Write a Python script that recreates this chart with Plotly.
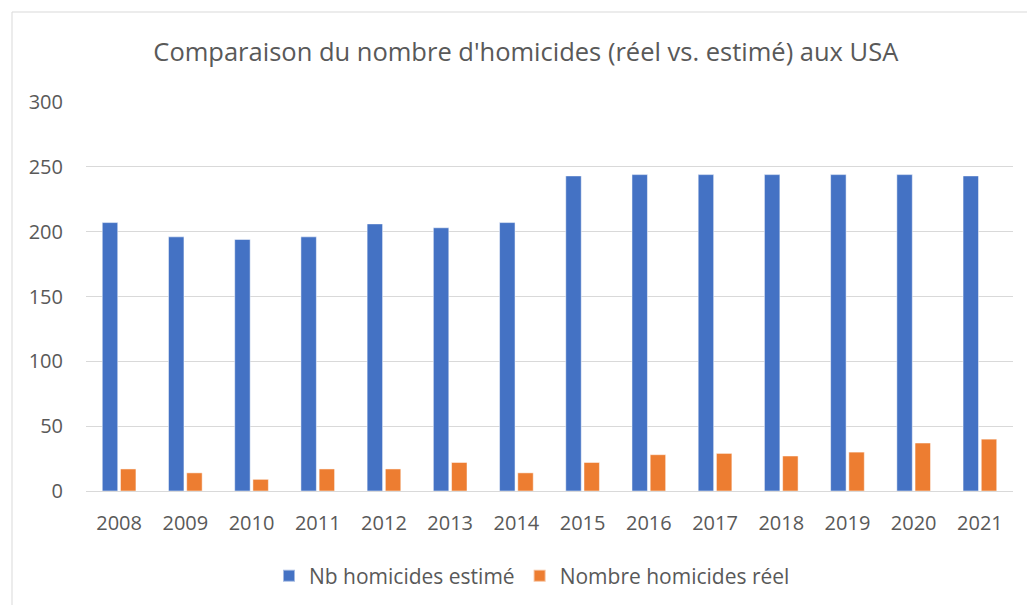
import plotly.graph_objects as go

# data
years = ["2008", "2009", "2010", "2011", "2012", "2013", "2014",
         "2015", "2016", "2017", "2018", "2019", "2020", "2021"]
estime = [207, 196, 194, 196, 206, 203, 207, 243, 244, 244, 244, 244, 244, 243]
reel = [17, 14, 9, 17, 17, 22, 14, 22, 28, 29, 27, 30, 37, 40]
y_ticks = [0, 50, 100, 150, 200, 250, 300]

TEXT = "#595959"
GRID = "#d9d9d9"
FONT = "Open Sans, Liberation Sans, sans-serif"

fig = go.Figure()
fig.add_trace(go.Bar(
    name="Nb homicides estimé", x=years, y=estime,
    marker=dict(color="#4472c4", line=dict(color="rgba(255,255,255,0.5)", width=1)),
))
fig.add_trace(go.Bar(
    name="Nombre homicides réel", x=years, y=reel,
    marker=dict(color="#ed7d31", line=dict(color="rgba(255,255,255,0.5)", width=1)),
))

fig.update_layout(
    width=1027, height=605,
    margin=dict(l=86, r=14, t=102, b=114),
    paper_bgcolor="white", plot_bgcolor="white",
    font=dict(family=FONT, color=TEXT, size=20),
    title=dict(
        text="Comparaison du nombre d'homicides (réel vs. estimé) aux USA",
        x=0.512, xref="container", xanchor="center",
        y=1 - 52 / 605, yref="container", yanchor="middle",
        font=dict(size=25.5, color=TEXT, family=FONT),
    ),
    barmode="group", bargap=0.45, bargroupgap=0.15,
    legend=dict(
        orientation="h", x=0.518, xref="container", xanchor="center",
        y=1 - 576 / 605, yref="container", yanchor="middle",
        font=dict(size=21, color=TEXT), itemsizing="constant",
        traceorder="normal", itemwidth=30,
    ),
    showlegend=True,
    shapes=[dict(
        type="rect", xref="paper", yref="paper",
        x0=(12 - 86) / 927, x1=1.03, y0=-0.32, y1=(491 - 12) / 389,
        line=dict(color=GRID, width=1), fillcolor="rgba(0,0,0,0)", layer="below",
    )],
)
fig.update_xaxes(
    showgrid=False, showline=True, linecolor=GRID, linewidth=1,
    ticks="", ticklabelstandoff=14, tickfont=dict(size=20, color=TEXT),
)
fig.update_yaxes(
    range=[0, 300], tickvals=y_ticks, showgrid=True, gridcolor=GRID, gridwidth=1,
    zeroline=False, showline=False, ticks="", ticklabelstandoff=22,
    tickfont=dict(size=20, color=TEXT),
)

fig.write_html(
    "out.html",
    config={"displayModeBar": False},
    post_script="document.body.style.margin='0';",
)
